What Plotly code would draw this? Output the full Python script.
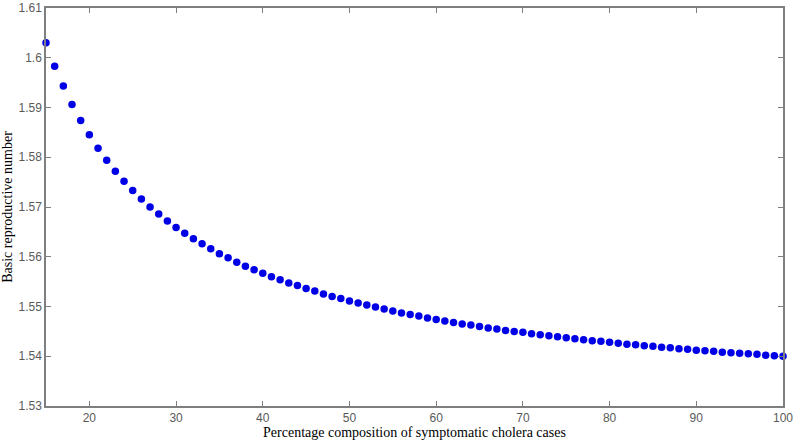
import plotly.graph_objects as go

percent_symptomatic = list(range(15, 101))
basic_reproductive_number = [
    1.6030, 1.5983, 1.5943, 1.5906, 1.5874, 1.5845, 1.5818, 1.5794, 1.5772, 1.5752,
    1.5733, 1.5716, 1.5700, 1.5686, 1.5672, 1.5659, 1.5647, 1.5636, 1.5626, 1.5616,
    1.5606, 1.5598, 1.5589, 1.5581, 1.5574, 1.5567, 1.5560, 1.5554, 1.5547, 1.5542,
    1.5536, 1.5531, 1.5525, 1.5520, 1.5516, 1.5511, 1.5507, 1.5503, 1.5499, 1.5495,
    1.5491, 1.5487, 1.5484, 1.5481, 1.5477, 1.5474, 1.5471, 1.5468, 1.5465, 1.5463,
    1.5460, 1.5457, 1.5455, 1.5452, 1.5450, 1.5448, 1.5445, 1.5443, 1.5441, 1.5439,
    1.5437, 1.5435, 1.5433, 1.5431, 1.5430, 1.5428, 1.5426, 1.5424, 1.5423, 1.5421,
    1.5420, 1.5418, 1.5417, 1.5415, 1.5414, 1.5412, 1.5411, 1.5410, 1.5408, 1.5407,
    1.5406, 1.5405, 1.5404, 1.5402, 1.5401, 1.5400,
]
x_ticks = [20, 30, 40, 50, 60, 70, 80, 90, 100]
y_ticks = [1.53, 1.54, 1.55, 1.56, 1.57, 1.58, 1.59, 1.6, 1.61]
y_tick_labels = ["1.53", "1.54", "1.55", "1.56", "1.57", "1.58", "1.59", "1.6", "1.61"]

fig = go.Figure(
    go.Scatter(
        x=percent_symptomatic,
        y=basic_reproductive_number,
        mode="markers",
        marker=dict(color="#0000E6", size=7.5, symbol="circle", line=dict(width=0)),
        showlegend=False,
        cliponaxis=False,
    )
)

axis_common = dict(
    showgrid=False,
    zeroline=False,
    showline=True,
    linecolor="#7f7f7f",
    linewidth=1.5,
    mirror="ticks",
    ticks="inside",
    ticklen=5,
    tickcolor="#7f7f7f",
    tickfont=dict(family="Liberation Sans, Arial", size=12, color="#5a5a5a"),
)

fig.update_layout(
    width=797,
    height=443,
    margin=dict(l=46, r=14, t=8, b=37),
    paper_bgcolor="white",
    plot_bgcolor="white",
    xaxis=dict(
        range=[15, 100],
        tickvals=x_ticks,
        title=dict(
            text="Percentage composition of symptomatic cholera cases",
            font=dict(family="Liberation Serif, Times New Roman", size=14, color="black"),
            standoff=1,
        ),
        automargin=False,
        **axis_common,
    ),
    yaxis=dict(
        range=[1.53, 1.61],
        tickvals=y_ticks,
        ticktext=y_tick_labels,
        title=dict(
            text="Basic reproductive number",
            font=dict(family="Liberation Serif, Times New Roman", size=14, color="black"),
            standoff=5,
        ),
        automargin=False,
        **axis_common,
    ),
)

fig.write_html(
    "out.html",
    config={"displayModeBar": False},
    post_script="document.body.style.margin='0';document.body.style.overflow='hidden';",
)
